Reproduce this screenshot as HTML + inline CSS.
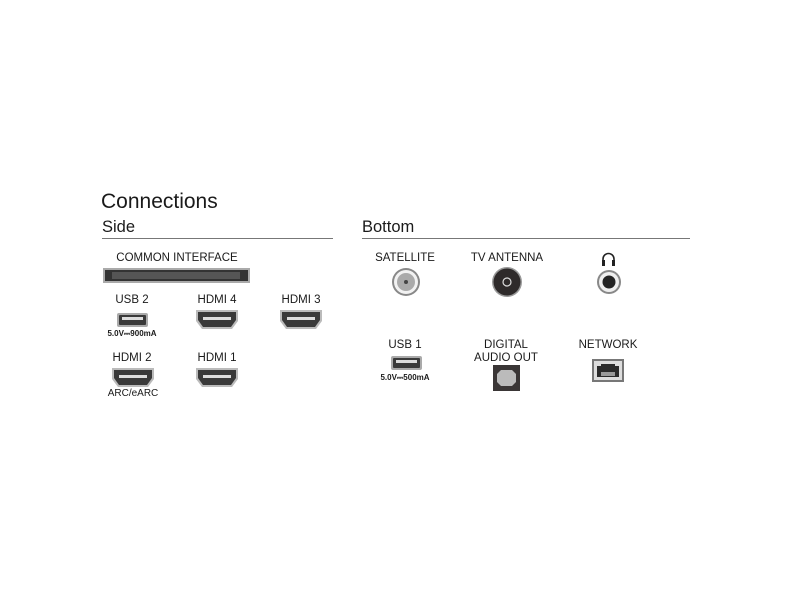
<!DOCTYPE html>
<html><head><style>
html,body{margin:0;padding:0;background:#fff;}
body{width:800px;height:600px;position:relative;overflow:hidden;font-family:"Liberation Sans",sans-serif;color:#1a1a1a;}
.t{position:absolute;white-space:nowrap;transform:translateX(-50%);font-size:11.5px;line-height:13px;}
.s{position:absolute;white-space:nowrap;transform:translateX(-50%);font-size:8px;font-weight:bold;line-height:9px;}
</style></head><body>
<div style="position:absolute;left:101px;top:190px;font-size:21px;">Connections</div>
<div style="position:absolute;left:102px;top:218px;font-size:16.5px;">Side</div>
<div style="position:absolute;left:362px;top:218px;font-size:16.5px;">Bottom</div>
<div style="position:absolute;left:102px;top:238px;width:231px;height:1px;background:#777;"></div>
<div style="position:absolute;left:362px;top:238px;width:328px;height:1px;background:#777;"></div>

<div class="t" style="left:177px;top:252px;">COMMON INTERFACE</div>
<div class="t" style="left:132px;top:294px;">USB 2</div>
<div class="t" style="left:217px;top:294px;">HDMI 4</div>
<div class="t" style="left:301px;top:294px;">HDMI 3</div>
<div class="s" style="left:132px;top:329px;">5.0V⎓900mA</div>
<div class="t" style="left:132px;top:352px;">HDMI 2</div>
<div class="t" style="left:217px;top:352px;">HDMI 1</div>
<div class="t" style="left:133px;top:387px;font-size:10px;">ARC/eARC</div>

<div class="t" style="left:405px;top:252px;">SATELLITE</div>
<div class="t" style="left:507px;top:252px;">TV ANTENNA</div>
<div class="t" style="left:405px;top:339px;">USB 1</div>
<div class="t" style="left:506px;top:339px;text-align:center;">DIGITAL<br>AUDIO OUT</div>
<div class="t" style="left:608px;top:339px;">NETWORK</div>
<div class="s" style="left:405px;top:373px;">5.0V⎓500mA</div>

<svg width="800" height="600" style="position:absolute;left:0;top:0">
<defs>
<g id="hdmi">
<path d="M0,0 H42 V11 L36,19 H6 L0,11 Z" fill="#bbb"/>
<path d="M2,2 H40 V10 L35,17 H7 L2,10 Z" fill="#3a3a3a"/>
<rect x="7" y="7" width="28" height="3" fill="#ddd"/>
</g>
<g id="usb">
<rect x="0" y="0" width="31" height="14" rx="2" fill="#aaa"/>
<rect x="2" y="2" width="27" height="10" rx="1" fill="#3a3a3a"/>
<rect x="5" y="4" width="21" height="3" fill="#ddd"/>
</g>
</defs>
<rect x="103" y="268" width="147" height="15" fill="#aaa"/>
<rect x="105" y="270" width="143" height="11" fill="#333"/>
<rect x="112" y="272" width="128" height="7" fill="#555"/>
<use href="#usb" x="117" y="313"/>
<use href="#hdmi" x="196" y="310"/>
<use href="#hdmi" x="280" y="310"/>
<use href="#hdmi" x="112" y="368"/>
<use href="#hdmi" x="196" y="368"/>

<circle cx="406" cy="282" r="14" fill="#888"/>
<circle cx="406" cy="282" r="12" fill="#f2f2f2"/>
<circle cx="406" cy="282" r="9" fill="#aaa"/>
<circle cx="406" cy="282" r="2" fill="#444"/>
<circle cx="507" cy="282" r="15" fill="#999"/>
<circle cx="507" cy="282" r="13.5" fill="#2e2a2a"/>
<circle cx="507" cy="282" r="4" fill="none" stroke="#ddd" stroke-width="1.2"/>
<circle cx="609" cy="282" r="12" fill="#888"/>
<circle cx="609" cy="282" r="10" fill="#eee"/>
<circle cx="609" cy="282" r="6.5" fill="#222"/>
<path d="M603,265 V259 A5.5,5.5 0 0 1 614,259 V265" fill="none" stroke="#222" stroke-width="1.6"/>
<rect x="602" y="260" width="3" height="6" fill="#222"/>
<rect x="612" y="260" width="3" height="6" fill="#222"/>

<use href="#usb" x="391" y="356"/>
<rect x="493" y="365" width="27" height="26" fill="#3a3636"/>
<path d="M501,370 H512 L516,374 V382 L512,386 H501 L497,382 V374 Z" fill="#bbb"/>
<rect x="592" y="359" width="32" height="23" fill="#777"/>
<rect x="594" y="361" width="28" height="19" fill="#ddd"/>
<path d="M597,366 H601 V364 H615 V366 H619 V377 H597 Z" fill="#2a2a2a"/>
<rect x="601" y="372" width="14" height="4" fill="#999"/>
</svg>
</body></html>
